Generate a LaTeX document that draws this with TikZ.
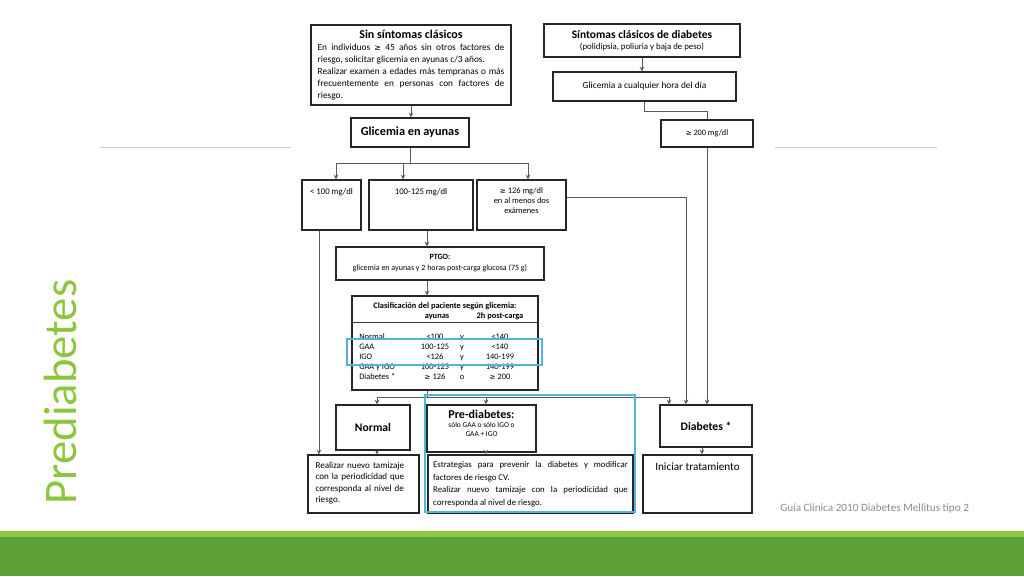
\documentclass[tikz,border=0pt]{standalone}
\usepackage{fontspec}
\setmainfont{Carlito}
\newfontfamily\symfont{DejaVu Sans}
\newcommand{\mayig}{{\symfont\scalebox{0.85}{≥}}}
\usetikzlibrary{positioning}

\definecolor{titlegreen}{RGB}{140,198,63}
\definecolor{barlight}{RGB}{141,198,63}
\definecolor{bardark}{RGB}{96,160,56}
\definecolor{hlblue}{RGB}{80,180,222}

\begin{document}
\begin{tikzpicture}[x=0.75pt, y=-0.75pt, >=stealth,
    box/.style={draw=black!85, line width=0.9pt, inner sep=2pt, align=center},
    conn/.style={draw=black!65, line width=0.6pt},
    hl/.style={draw=hlblue, line width=2.2pt},
    sep/.style={draw=black!20, line width=0.7pt},
    tbl/.style={font=\fontsize{6.3}{7.5}\selectfont, inner sep=0pt, anchor=base}]

    % Frame
    \useasboundingbox (0,0) rectangle (1024,576);
    \fill[white] (0,0) rectangle (1024,576);
    \fill[barlight] (0,531) rectangle (1024,537);
    \fill[bardark] (0,537) rectangle (1024,576);
    \draw[sep] (100,147) -- (290,147);
    \draw[sep] (775,147) -- (937,147);

    % Title and footer
    \node[rotate=90, anchor=base, text=titlegreen, inner sep=0pt,
          font=\fontsize{35}{40}\selectfont] (titulo) at (76,392) {Prediabetes};
    \node[anchor=base west, text=black!45, inner sep=0pt,
          font=\fontsize{8.4}{10}\selectfont] (pie) at (780,511) {Guía Clínica 2010 Diabetes Mellitus tipo 2};

    % Top boxes
    \node[box, minimum width=150pt, minimum height=60pt, text width=140pt, align=justify,
          font=\fontsize{7}{9}\selectfont] (sinsint) at (411,65)
        {\makebox[\linewidth]{\fontsize{9}{11}\selectfont\bfseries Sin síntomas clásicos}\\
         En individuos \mayig\ 45 años sin otros factores de\linebreak
         riesgo, solicitar glicemia en ayunas c/3 años.\\
         Realizar examen a edades más tempranas o más\linebreak
         frecuentemente en personas con factores de\linebreak
         riesgo.};
    \node[box, minimum width=147pt, minimum height=24.75pt,
          font=\fontsize{6.6}{8.5}\selectfont] (sint) at (642,40.5)
        {{\fontsize{8.6}{10}\selectfont\bfseries Síntomas clásicos de diabetes}\\(polidipsia, poliuria y baja de peso)};
    \node[box, minimum width=137.25pt, minimum height=21.75pt,
          font=\fontsize{7}{9}\selectfont] (cualq) at (644.5,86.5) {Glicemia a cualquier hora del día};
    \node[box, minimum width=69pt, minimum height=20.25pt,
          font=\fontsize{6.2}{8}\selectfont] (dos) at (707,133.5) {\mayig\ 200 mg/dl};
    \node[box, minimum width=88.5pt, minimum height=21.75pt,
          font=\fontsize{9.2}{11}\selectfont\bfseries] (ayunas) at (410,132.5) {Glicemia en ayunas};

    % Fasting ranges
    \node[box, minimum width=44.25pt, minimum height=37.5pt,
          label={[below=3pt, font=\fontsize{6.5}{7.5}\selectfont]north:< 100 mg/dl}] (menor) at (331.5,205) {};
    \node[box, minimum width=78pt, minimum height=37.5pt,
          label={[below=3pt, font=\fontsize{6.5}{7.5}\selectfont]north:100-125 mg/dl}] (medio) at (421,205) {};
    \node[box, minimum width=66.75pt, minimum height=37.5pt,
          label={[below=3pt, align=center, font=\fontsize{6.3}{7.5}\selectfont]north:\mayig\ 126 mg/dl\\en al menos dos\\exámenes}] (mayor) at (521.5,205) {};

    % PTGO and classification
    \node[box, minimum width=156pt, minimum height=24.75pt,
          font=\fontsize{6}{8.2}\selectfont] (ptgo) at (440,263.5)
        {\textbf{PTGO:}\\glicemia en ayunas y 2 horas post-carga glucosa (75 g)};
    \node[box, minimum width=139.5pt, minimum height=70.5pt] (clasif) at (445,343) {};
    \node[tbl, font=\fontsize{6.3}{7.5}\selectfont\bfseries] (clastit) at (445,308) {Clasificación del paciente según glicemia:};
    \node[tbl, font=\fontsize{6.3}{7.5}\selectfont\bfseries] (colay) at (437,318) {ayunas};
    \node[tbl, font=\fontsize{6.3}{7.5}\selectfont\bfseries] (colpc) at (500,318) {2h post-carga};
    \draw[line width=0.6pt, black!80] (clasif.west |- 0,322) -- (clasif.east |- 0,322);
    \foreach \nom/\ay/\op/\pc [count=\i] in {Normal/{<100}/y/{<140}, GAA/100-125/y/{<140},
        IGO/{<126}/y/140-199, GAA y IGO/100-125/y/140-199, Diabetes */{\mayig\ 126}/o/{\mayig\ 200}}{
        \node[tbl, anchor=base west] (fila\i) at (359,329+10*\i) {\nom};
        \node[tbl] (ay\i) at (435,329+10*\i) {\ay};
        \node[tbl] (op\i) at (462,329+10*\i) {\op};
        \node[tbl] (pc\i) at (500,329+10*\i) {\pc};
    }

    % Results
    \node[box, minimum width=55.5pt, minimum height=33.75pt,
          font=\fontsize{8.7}{10}\selectfont\bfseries] (normal) at (373,427.5) {Normal};
    \node[box, minimum width=81.75pt, minimum height=35.25pt,
          font=\fontsize{5.6}{7}\selectfont] (prediab) at (481.5,428.5)
        {{\fontsize{9}{11}\selectfont\bfseries Pre-diabetes:}\\sólo GAA o sólo IGO o\\GAA + IGO\\[1pt]};
    \node[box, minimum width=69pt, minimum height=31.5pt,
          font=\fontsize{8.7}{10}\selectfont\bfseries] (diab) at (706,426) {Diabetes *};

    % Actions
    \node[box, minimum width=83.25pt, minimum height=43.5pt,
          label={[below=2pt, text width=72pt, align=left, font=\fontsize{6.8}{8.6}\selectfont]north:Realizar nuevo tamizaje\\con la periodicidad que\\corresponda al nivel de\\riesgo.}] (realizar) at (363.5,484) {};
    \node[box, minimum width=153.75pt, minimum height=43.5pt,
          label={[below=2pt, text width=146pt, align=justify, font=\fontsize{6.6}{9.3}\selectfont]north:Estrategias para prevenir la diabetes y modificar\linebreak factores de riesgo CV.\\Realizar nuevo tamizaje con la periodicidad que\linebreak corresponda al nivel de riesgo.}] (estrat) at (530.5,484) {};
    \node[box, minimum width=81.75pt, minimum height=43.5pt,
          label={[below=3pt, font=\fontsize{8.4}{10}\selectfont]north:Iniciar tratamiento}] (iniciar) at (697.5,484) {};

    % Connectors
    \draw[conn,->] (sinsint.south) -- (sinsint.south |- ayunas.north);
    \draw[conn,->] (sint.south) -- (sint.south |- cualq.north);
    \draw[conn] (cualq.south) -- ++(0,10) -| (dos.north);
    \draw[conn,->] (dos.south) -- (dos.south |- diab.north);

    \coordinate (rama1) at (ayunas.south |- 0,163);
    \draw[conn] (ayunas.south) -- (rama1);
    \draw[conn,->] (rama1) -| ([xshift=3.4pt]menor.north);
    \draw[conn,->] (rama1) -| ([xshift=-13.5pt]medio.north);
    \draw[conn,->] (rama1) -| ([xshift=4.9pt]mayor.north);
    \draw[conn,->] ([yshift=6pt]mayor.east) -| ([xshift=-15pt]diab.north);
    \draw[conn,->] ([xshift=-9.4pt]menor.south) -- ([xshift=-9.4pt]menor.south |- realizar.north);

    \coordinate (eje) at ([xshift=4.5pt]medio.south);
    \draw[conn,->] (eje) -- (eje |- ptgo.north);
    \draw[conn,->] (eje |- ptgo.south) -- (eje |- clasif.north);
    \coordinate (rama2) at (eje |- 0,397);
    \draw[conn] (eje |- clasif.south) -- (rama2);
    \draw[conn,->] (rama2) -| ([xshift=3pt]normal.north);
    \draw[conn,->] (rama2) -| ([xshift=3.4pt]prediab.north);
    \draw[conn,->] (rama2) -| ([xshift=-27.75pt]diab.north);

    \draw[conn,->] ([xshift=3pt]normal.south) -- ([xshift=3pt]normal.south |- realizar.north);
    \draw[conn,->] ([xshift=3.4pt]prediab.south) -- ([xshift=3.4pt]prediab.south |- estrat.north);
    \draw[conn,->] ([xshift=-3pt]diab.south) -- ([xshift=-3pt]diab.south |- iniciar.north);

    % Highlights
    \draw[hl] (347,339) rectangle (542,365);
    \draw[hl] (425,395) rectangle (635,512);
\end{tikzpicture}
\end{document}
